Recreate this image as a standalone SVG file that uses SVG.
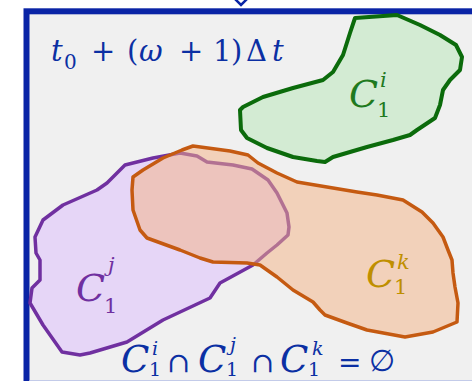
<svg xmlns="http://www.w3.org/2000/svg" width="472" height="381" viewBox="0 0 472 381">
<style>
.m{font-family:"DejaVu Serif","Liberation Serif",serif}
.it{font-style:italic}
.blue{fill:#0b2fa3}
.blob{stroke-linejoin:round;stroke-linecap:round}
</style>
<rect x="0" y="0" width="472" height="381" fill="#ffffff"/>
<g id="frame">
<rect x="26.5" y="11.3" width="460" height="400" fill="#f0f0f0" stroke="#0a24a6" stroke-width="6"/>
<line x1="29.5" y1="380.5" x2="472" y2="380.5" stroke="#c3cbe9" stroke-width="1"/>
<polyline points="235,-1 241,5 247,-1" fill="#ffffff" stroke="#0a24a6" stroke-width="2.5"/>
</g>
<g id="Ci">
<path class="blob" d="M355,18 L397,15 L420,25 L440,35 L456,45 L462,57 L460,70 L450,80 L443,90 L440,105 L435,118 L417,130 L410,135 L393,140 L367,147 L333,157 L325,162 L317,161 L293,157 L267,148 L247,138 L241,130 L240,110 L243,107 L263,97 L293,88 L323,80 L333,72 L343,55 L350,33 Z" fill="#d3ebd3" stroke="#0b6b0b" stroke-width="4"/>
<text class="m" fill="#1f7a1f"><tspan class="it" x="349" y="107" font-size="38">C</tspan><tspan x="377" y="117" font-size="21">1</tspan><tspan class="it" x="380" y="87" font-size="21">i</tspan></text>
</g>
<g id="Cj">
<path class="blob" d="M180,153 L153,158 L125,165 L118,172 L107,183 L97,190 L63,205 L43,220 L35,237 L36,253 L40,260 L40,280 L32,288 L30,303 L43,325 L62,352 L80,355 L90,353 L127,342 L163,320 L210,298 L220,283 L253,265 L267,253 L277,245 L288,235 L289,227 L287,213 L277,193 L268,180 L252,169 L233,165 L207,162 L197,156 Z" fill="#e6d6f7" stroke="#7030a0" stroke-width="3.5"/>
<text class="m" fill="#7030a0"><tspan class="it" x="76" y="301" font-size="38">C</tspan><tspan x="104" y="313" font-size="21">1</tspan><tspan class="it" x="108" y="272" font-size="21">j</tspan></text>
</g>
<g id="Ck">
<path class="blob" d="M193,146 L230,151 L248,155 L258,163 L277,173 L297,182 L333,188 L357,192 L377,195 L403,200 L422,212 L433,223 L443,237 L448,250 L452,260 L453,273 L455,287 L458,303 L457,322 L445,327 L433,332 L405,337 L367,330 L347,323 L325,315 L320,310 L313,302 L293,290 L277,277 L260,265 L247,263 L213,262 L200,258 L180,250 L147,238 L140,230 L133,210 L132,190 L133,177 L143,170 L163,158 L182,150 Z" fill="#f4b183" fill-opacity="0.5" stroke="#c55a11" stroke-width="3.5"/>
<text class="m" fill="#bf8f00"><tspan class="it" x="366" y="287" font-size="38">C</tspan><tspan x="394" y="294" font-size="21">1</tspan><tspan class="it" x="397" y="269" font-size="21">k</tspan></text>
</g>
<g id="time">
<text class="m blue" font-size="29"><tspan class="it" x="51" y="61">t</tspan><tspan x="64" y="69" font-size="20">0</tspan><tspan x="91" y="61">+</tspan><tspan x="127" y="61">(</tspan><tspan class="it" x="139" y="61">ω</tspan><tspan x="179" y="61">+</tspan><tspan x="213" y="61">1</tspan><tspan x="231" y="61">)</tspan><tspan x="246" y="61">Δ</tspan><tspan class="it" x="272" y="61">t</tspan></text>
</g>
<g id="formula">
<text class="m blue"><tspan class="it" x="121" y="372" font-size="37">C</tspan><tspan x="149" y="376" font-size="19">1</tspan><tspan class="it" x="152" y="355" font-size="19">i</tspan><tspan x="167" y="372" font-size="28">∩</tspan><tspan class="it" x="198" y="372" font-size="37">C</tspan><tspan x="226" y="376" font-size="19">1</tspan><tspan class="it" x="230" y="351" font-size="19">j</tspan><tspan x="251" y="372" font-size="28">∩</tspan><tspan class="it" x="280" y="372" font-size="37">C</tspan><tspan x="308" y="376" font-size="19">1</tspan><tspan class="it" x="312" y="355" font-size="19">k</tspan><tspan x="338" y="372" font-size="28">=</tspan><tspan x="369" y="371" font-size="30">∅</tspan></text>
</g>
</svg>
